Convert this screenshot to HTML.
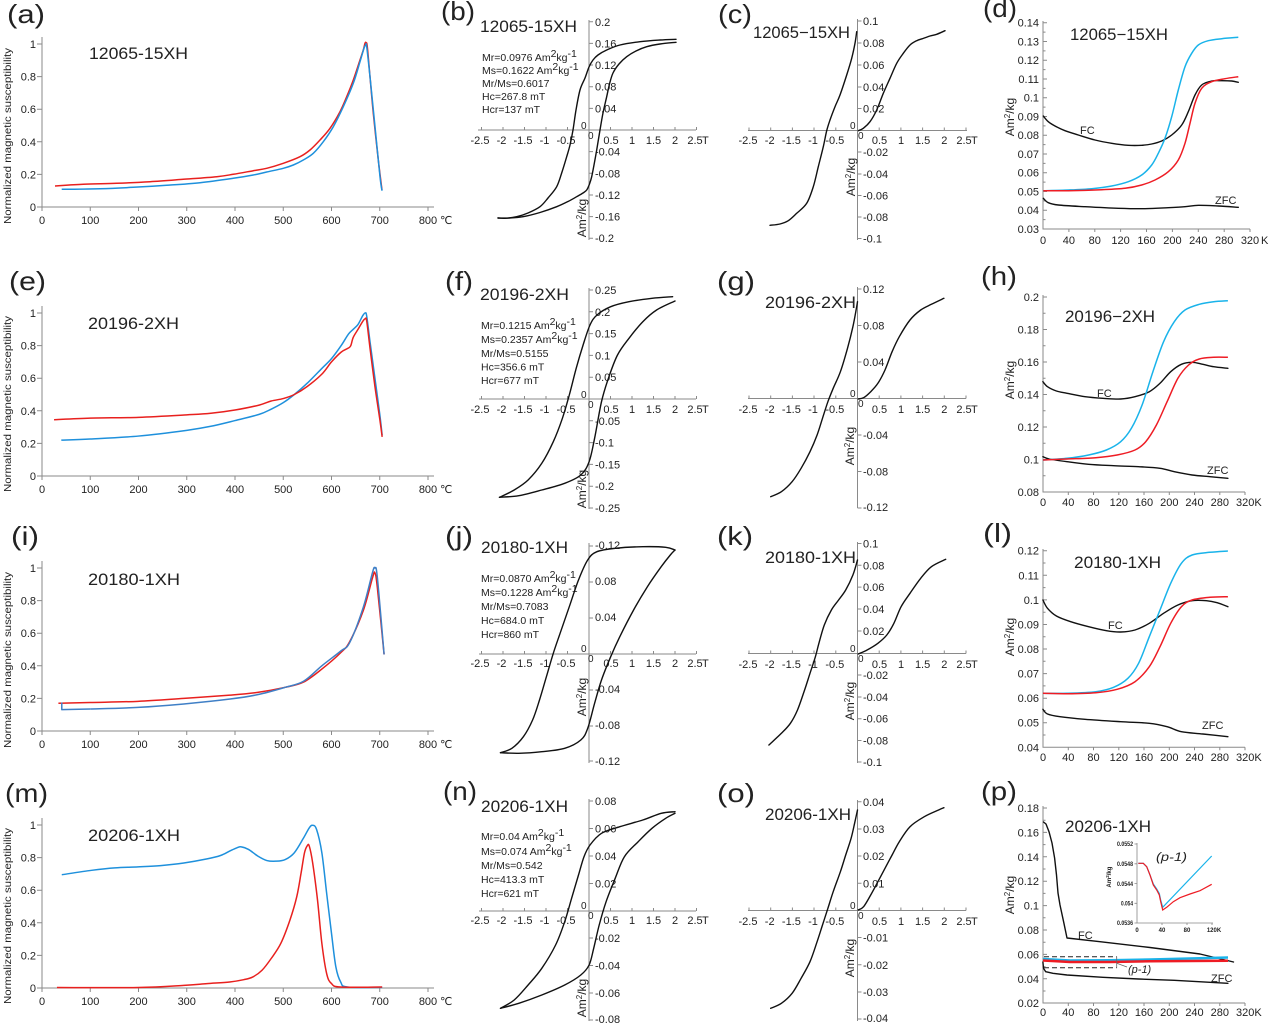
<!DOCTYPE html>
<html><head><meta charset="utf-8"><style>
html,body{margin:0;padding:0;background:#fff}
svg{display:block}
text{font-family:"Liberation Sans","DejaVu Sans","Noto Sans CJK SC",sans-serif;fill:#222}
.t{font-size:11px}
.pl{font-size:26px}
.nm{font-size:16.5px}
.mr{font-size:10.5px}
.ax{stroke:#8a8a8a;stroke-width:1;fill:none}
.k{fill:none;stroke:#111;stroke-width:1.4;stroke-linejoin:round;stroke-linecap:round}
.r{fill:none;stroke:#e8201e;stroke-width:1.5;stroke-linejoin:round}
.b{fill:none;stroke:#1e90dc;stroke-width:1.5;stroke-linejoin:round}
.bs{fill:none;stroke:#3f7fc6;stroke-width:1.5;stroke-linejoin:round}
.c{fill:none;stroke:#19b3ea;stroke-width:1.5;stroke-linejoin:round}
.rr{fill:none;stroke:#ee1c24;stroke-width:1.5;stroke-linejoin:round}
</style></head><body>
<svg width="1270" height="1023" viewBox="0 0 1270 1023" xmlns="http://www.w3.org/2000/svg">
<rect width="1270" height="1023" fill="#fff"/>

<!-- Panel letters -->
<text class="pl" x="7" y="23" textLength="38" lengthAdjust="spacingAndGlyphs">(a)</text>
<text class="pl" x="441" y="20" textLength="34" lengthAdjust="spacingAndGlyphs">(b)</text>
<text class="pl" x="718" y="23" textLength="34" lengthAdjust="spacingAndGlyphs">(c)</text>
<text class="pl" x="983" y="17" textLength="34" lengthAdjust="spacingAndGlyphs">(d)</text>
<text class="pl" x="9" y="290" textLength="37" lengthAdjust="spacingAndGlyphs">(e)</text>
<text class="pl" x="445" y="290" textLength="28" lengthAdjust="spacingAndGlyphs">(f)</text>
<text class="pl" x="717" y="290" textLength="38" lengthAdjust="spacingAndGlyphs">(g)</text>
<text class="pl" x="981" y="285" textLength="36" lengthAdjust="spacingAndGlyphs">(h)</text>
<text class="pl" x="11" y="545" textLength="28" lengthAdjust="spacingAndGlyphs">(i)</text>
<text class="pl" x="445" y="545" textLength="28" lengthAdjust="spacingAndGlyphs">(j)</text>
<text class="pl" x="717" y="545" textLength="36" lengthAdjust="spacingAndGlyphs">(k)</text>
<text class="pl" x="983" y="542" textLength="29" lengthAdjust="spacingAndGlyphs">(l)</text>
<text class="pl" x="5" y="802" textLength="43" lengthAdjust="spacingAndGlyphs">(m)</text>
<text class="pl" x="443" y="800" textLength="34" lengthAdjust="spacingAndGlyphs">(n)</text>
<text class="pl" x="717" y="802" textLength="38" lengthAdjust="spacingAndGlyphs">(o)</text>
<text class="pl" x="981" y="800" textLength="36" lengthAdjust="spacingAndGlyphs">(p)</text>

<!-- Sample names -->
<text class="nm" x="89" y="59" textLength="99" lengthAdjust="spacingAndGlyphs">12065-15XH</text>
<text class="nm" x="88" y="329" textLength="91" lengthAdjust="spacingAndGlyphs">20196-2XH</text>
<text class="nm" x="88" y="585" textLength="92" lengthAdjust="spacingAndGlyphs">20180-1XH</text>
<text class="nm" x="88" y="841" textLength="92" lengthAdjust="spacingAndGlyphs">20206-1XH</text>
<text class="nm" x="480" y="32" textLength="97" lengthAdjust="spacingAndGlyphs">12065-15XH</text>
<text class="nm" x="480" y="300" textLength="89" lengthAdjust="spacingAndGlyphs">20196-2XH</text>
<text class="nm" x="481" y="553" textLength="87" lengthAdjust="spacingAndGlyphs">20180-1XH</text>
<text class="nm" x="481" y="812" textLength="87" lengthAdjust="spacingAndGlyphs">20206-1XH</text>
<text class="nm" x="753" y="38" textLength="97" lengthAdjust="spacingAndGlyphs">12065−15XH</text>
<text class="nm" x="765" y="308" textLength="91" lengthAdjust="spacingAndGlyphs">20196-2XH</text>
<text class="nm" x="765" y="563" textLength="91" lengthAdjust="spacingAndGlyphs">20180-1XH</text>
<text class="nm" x="765" y="820" textLength="86" lengthAdjust="spacingAndGlyphs">20206-1XH</text>
<text class="nm" x="1070" y="40" textLength="98" lengthAdjust="spacingAndGlyphs">12065−15XH</text>
<text class="nm" x="1065" y="322" textLength="90" lengthAdjust="spacingAndGlyphs">20196−2XH</text>
<text class="nm" x="1074" y="568" textLength="87" lengthAdjust="spacingAndGlyphs">20180-1XH</text>
<text class="nm" x="1065" y="832" textLength="86" lengthAdjust="spacingAndGlyphs">20206-1XH</text>

<!-- ================= COLUMN 1 axes ================= -->
<g id="col1">
<path class="ax" d="M42,37V207H434"/>
<path class="ax" d="M37,207H42M37,174.4H42M37,141.8H42M37,109.2H42M37,76.6H42M37,44H42"/>
<path class="ax" d="M42,207v4M90.25,207v4M138.5,207v4M186.75,207v4M235,207v4M283.25,207v4M331.5,207v4M379.75,207v4M428,207v4"/>
<g class="t" text-anchor="end">
<text x="36" y="211">0</text><text x="36" y="178.4">0.2</text><text x="36" y="145.8">0.4</text><text x="36" y="113.2">0.6</text><text x="36" y="80.6">0.8</text><text x="36" y="48">1</text>
</g>
<g class="t" text-anchor="middle">
<text x="42" y="224">0</text><text x="90.25" y="224">100</text><text x="138.5" y="224">200</text><text x="186.75" y="224">300</text><text x="235" y="224">400</text><text x="283.25" y="224">500</text><text x="331.5" y="224">600</text><text x="379.75" y="224">700</text><text x="428" y="224">800</text>
</g>
<text class="t" x="440" y="224">℃</text>
<text class="t" transform="rotate(-90 11 136)" x="11" y="136" text-anchor="middle" textLength="176" lengthAdjust="spacingAndGlyphs" style="font-size:10.5px">Normalized magnetic susceptibility</text>

<path class="ax" d="M42,306V476H434"/>
<path class="ax" d="M37,476H42M37,443.4H42M37,410.8H42M37,378.2H42M37,345.6H42M37,313H42"/>
<path class="ax" d="M42,476v4M90.25,476v4M138.5,476v4M186.75,476v4M235,476v4M283.25,476v4M331.5,476v4M379.75,476v4M428,476v4"/>
<g class="t" text-anchor="end">
<text x="36" y="480">0</text><text x="36" y="447.4">0.2</text><text x="36" y="414.8">0.4</text><text x="36" y="382.2">0.6</text><text x="36" y="349.6">0.8</text><text x="36" y="317">1</text>
</g>
<g class="t" text-anchor="middle">
<text x="42" y="493">0</text><text x="90.25" y="493">100</text><text x="138.5" y="493">200</text><text x="186.75" y="493">300</text><text x="235" y="493">400</text><text x="283.25" y="493">500</text><text x="331.5" y="493">600</text><text x="379.75" y="493">700</text><text x="428" y="493">800</text>
</g>
<text class="t" x="440" y="493">℃</text>
<text class="t" transform="rotate(-90 11 404)" x="11" y="404" text-anchor="middle" textLength="176" lengthAdjust="spacingAndGlyphs" style="font-size:10.5px">Normalized magnetic susceptibility</text>

<path class="ax" d="M42,561V731H434"/>
<path class="ax" d="M37,731H42M37,698.4H42M37,665.8H42M37,633.2H42M37,600.6H42M37,568H42"/>
<path class="ax" d="M42,731v4M90.25,731v4M138.5,731v4M186.75,731v4M235,731v4M283.25,731v4M331.5,731v4M379.75,731v4M428,731v4"/>
<g class="t" text-anchor="end">
<text x="36" y="735">0</text><text x="36" y="702.4">0.2</text><text x="36" y="669.8">0.4</text><text x="36" y="637.2">0.6</text><text x="36" y="604.6">0.8</text><text x="36" y="572">1</text>
</g>
<g class="t" text-anchor="middle">
<text x="42" y="748">0</text><text x="90.25" y="748">100</text><text x="138.5" y="748">200</text><text x="186.75" y="748">300</text><text x="235" y="748">400</text><text x="283.25" y="748">500</text><text x="331.5" y="748">600</text><text x="379.75" y="748">700</text><text x="428" y="748">800</text>
</g>
<text class="t" x="440" y="748">℃</text>
<text class="t" transform="rotate(-90 11 660)" x="11" y="660" text-anchor="middle" textLength="176" lengthAdjust="spacingAndGlyphs" style="font-size:10.5px">Normalized magnetic susceptibility</text>

<path class="ax" d="M42,818V988H434"/>
<path class="ax" d="M37,988H42M37,955.4H42M37,922.8H42M37,890.2H42M37,857.6H42M37,825H42"/>
<path class="ax" d="M42,988v4M90.25,988v4M138.5,988v4M186.75,988v4M235,988v4M283.25,988v4M331.5,988v4M379.75,988v4M428,988v4"/>
<g class="t" text-anchor="end">
<text x="36" y="992">0</text><text x="36" y="959.4">0.2</text><text x="36" y="926.8">0.4</text><text x="36" y="894.2">0.6</text><text x="36" y="861.6">0.8</text><text x="36" y="829">1</text>
</g>
<g class="t" text-anchor="middle">
<text x="42" y="1005">0</text><text x="90.25" y="1005">100</text><text x="138.5" y="1005">200</text><text x="186.75" y="1005">300</text><text x="235" y="1005">400</text><text x="283.25" y="1005">500</text><text x="331.5" y="1005">600</text><text x="379.75" y="1005">700</text><text x="428" y="1005">800</text>
</g>
<text class="t" x="440" y="1005">℃</text>
<text class="t" transform="rotate(-90 11 916)" x="11" y="916" text-anchor="middle" textLength="176" lengthAdjust="spacingAndGlyphs" style="font-size:10.5px">Normalized magnetic susceptibility</text>
</g>

<!-- Column 1 curves -->
<polyline class="r" points="55,186 83.3,184.3 116.7,183.3 150,181.7 183.3,179.3 216.7,176.7 233.3,174.3 253.3,170.7 266.7,168.3 283.3,163.3 300,156.7 310,150 320,140 330,128.3 340,111.7 346.7,96.7 353.3,80 360,60 363.3,50 365,43.3 366,42.7 367.3,46.7 370,76.7 373.3,113.3 378.3,160 382,190"/>
<polyline class="b" points="61.7,189.3 100,188.7 133.3,187.3 166.7,185.3 200,182.7 233.3,178.3 253.3,175 266.7,172 283.3,168.3 293.3,165 303.3,160 313.3,153.3 323.3,141.7 333.3,126.7 343.3,106.7 353.3,83.3 360,61.7 364,48.3 365.7,45 366.7,46.7 370,76.7 375,126.7 380,176.7 382,190.7"/>

<g transform="translate(42,476) scale(0.4825,-163)">
<polyline class="b" vector-effect="non-scaling-stroke" points="40,0.22 100,0.227 200,0.245 300,0.28 350,0.305 400,0.34 450,0.378 475,0.41 500,0.45 523,0.5 550,0.57 580,0.66 600,0.72 620,0.8 635,0.87 645,0.9 655,0.93 665,0.985 670,1 673,0.98 680,0.82 690,0.6 700,0.38 705,0.25"/>
<polyline class="r" vector-effect="non-scaling-stroke" points="25,0.345 100,0.355 200,0.36 300,0.375 350,0.385 400,0.405 450,0.435 475,0.46 500,0.475 523,0.5 550,0.55 580,0.625 600,0.7 620,0.76 635,0.785 640,0.8 645,0.85 655,0.9 665,0.95 670,0.965 673,0.95 680,0.78 690,0.55 700,0.35 705,0.24"/>
</g>

<g transform="translate(42,731) scale(0.4825,-163)">
<polyline class="r" vector-effect="non-scaling-stroke" points="34,0.17 100,0.175 199,0.182 294,0.2 390,0.22 447,0.237 504,0.268 542,0.3 580,0.38 619,0.48 638,0.55 666,0.74 685,0.94 690,0.97 695,0.88 709,0.47"/>
<polyline class="bs ns" vector-effect="non-scaling-stroke" points="41,0.175 41,0.131 100,0.135"/>
<polyline class="bs" vector-effect="non-scaling-stroke" points="100,0.135 199,0.145 294,0.166 390,0.196 447,0.223 504,0.268 542,0.305 580,0.4 619,0.49 638,0.544 666,0.76 685,0.973 690,1 695,0.943 709,0.47"/>
</g>

<g transform="translate(42,988) scale(0.4825,-163)">
<polyline class="b" vector-effect="non-scaling-stroke" points="41,0.695 103,0.722 151,0.737 199,0.743 246,0.751 294,0.767 342,0.792 370,0.813 389,0.84 404,0.86 413,0.866 428,0.85 447,0.81 466,0.782 485,0.778 504,0.788 523,0.83 542,0.92 554,0.983 561,0.998 569,0.973 580,0.83 590,0.58 600,0.335 609,0.13 619,0.037 633,0.006 705,0.004"/>
<polyline class="r" vector-effect="non-scaling-stroke" points="31,0.003 199,0.003 294,0.016 342,0.027 389,0.037 418,0.051 437,0.068 456,0.109 475,0.181 495,0.274 514,0.418 528,0.56 537,0.706 544,0.829 550,0.874 554,0.87 561,0.767 571,0.54 580,0.274 590,0.088 600,0.027 619,0.006 705,0.006"/>
</g>

<!-- ================= COLUMN 2 ================= -->
<path class="ax" d="M478,130H696M589,20V240"/>
<path class="ax" d="M481.5,130v-3M503,130v-3M524.5,130v-3M546,130v-3M567.5,130v-3M610.5,130v-3M632,130v-3M653.5,130v-3M675,130v-3M696.5,130v-3"/>
<path class="ax" d="M589,21.8h4M589,43.4h4M589,65h4M589,86.7h4M589,108.4h4M589,151.6h4M589,173.3h4M589,195h4M589,216.6h4M589,238.2h4"/>
<g class="t">
<text x="595" y="25.8">0.2</text><text x="595" y="47.4">0.16</text><text x="595" y="69">0.12</text><text x="595" y="90.7">0.08</text><text x="595" y="112.4">0.04</text><text x="595" y="155.6">-0.04</text><text x="595" y="177.3">-0.08</text><text x="595" y="199">-0.12</text><text x="595" y="220.6">-0.16</text><text x="595" y="242.2">-0.2</text>
</g>
<g class="t" text-anchor="middle">
<text x="480" y="144">-2.5</text><text x="501.5" y="144">-2</text><text x="523" y="144">-1.5</text><text x="544.5" y="144">-1</text><text x="566" y="144">-0.5</text><text x="611" y="144">0.5</text><text x="632" y="144">1</text><text x="653.5" y="144">1.5</text><text x="675" y="144">2</text><text x="695" y="144">2.5</text>
</g>
<text class="t" x="702" y="144">T</text>
<text class="t" x="581" y="129" style="font-size:10px">0</text><text class="t" x="588" y="139" style="font-size:10px">0</text>
<text class="t" transform="rotate(-90 586 218)" x="586" y="218" text-anchor="middle" style="font-size:12px">Am<tspan dy="-4" style="font-size:8px">2</tspan><tspan dy="4">/kg</tspan></text>
<g class="mr">
<text x="482" y="61">Mr=0.0976 Am<tspan dy="-4">2</tspan><tspan dy="4">kg</tspan><tspan dy="-4">-1</tspan></text>
<text x="482" y="74">Ms=0.1622 Am<tspan dy="-4">2</tspan><tspan dy="4">kg</tspan><tspan dy="-4">-1</tspan></text>
<text x="482" y="87">Mr/Ms=0.6017</text>
<text x="482" y="100">Hc=267.8 mT</text>
<text x="482" y="113">Hcr=137 mT</text>
</g>
<polyline class="k" points="676,39.3 660,40 640,41.7 620,45 606.7,50 598,55 593,60 589,67 585,78 580,90 576,110 573,130 570,145 566.7,156.7 562,172 556.7,186.7 548,198 540,206.7 528,213 516.7,216.7 505,218.3 498,218"/>
<polyline class="k" points="498,218 510,218 523,216.7 540,212.5 556.7,206.7 568,201.5 576.7,196.7 583,193 586.7,190 589.5,184 591.7,176.7 594,165 596.7,150 600,130 603,113 606.7,96.7 609.5,84 613,73 619,64 626.7,56.7 636,51 646.7,46.7 660,44 676,42.3"/>

<path class="ax" d="M479,399H696M589,288V509"/>
<path class="ax" d="M481.5,399v-3M503,399v-3M524.5,399v-3M546,399v-3M567.5,399v-3M610.5,399v-3M632,399v-3M653.5,399v-3M675,399v-3M696.5,399v-3"/>
<path class="ax" d="M589,290h4M589,311.8h4M589,333.6h4M589,355.4h4M589,377.2h4M589,420.8h4M589,442.6h4M589,464.4h4M589,486.2h4M589,508h4"/>
<g class="t">
<text x="595" y="294">0.25</text><text x="595" y="315.8">0.2</text><text x="595" y="337.6">0.15</text><text x="595" y="359.4">0.1</text><text x="595" y="381.2">0.05</text><text x="595" y="424.8">-0.05</text><text x="595" y="446.6">-0.1</text><text x="595" y="468.4">-0.15</text><text x="595" y="490.2">-0.2</text><text x="595" y="512">-0.25</text>
</g>
<g class="t" text-anchor="middle">
<text x="480" y="413">-2.5</text><text x="501.5" y="413">-2</text><text x="523" y="413">-1.5</text><text x="544.5" y="413">-1</text><text x="566" y="413">-0.5</text><text x="611" y="413">0.5</text><text x="632" y="413">1</text><text x="653.5" y="413">1.5</text><text x="675" y="413">2</text><text x="695" y="413">2.5</text>
</g>
<text class="t" x="702" y="413">T</text>
<text class="t" x="581" y="398" style="font-size:10px">0</text><text class="t" x="588" y="408" style="font-size:10px">0</text>
<text class="t" transform="rotate(-90 586 489)" x="586" y="489" text-anchor="middle" style="font-size:12px">Am<tspan dy="-4" style="font-size:8px">2</tspan><tspan dy="4">/kg</tspan></text>
<g class="mr">
<text x="481" y="329">Mr=0.1215 Am<tspan dy="-4">2</tspan><tspan dy="4">kg</tspan><tspan dy="-4">-1</tspan></text>
<text x="481" y="343">Ms=0.2357 Am<tspan dy="-4">2</tspan><tspan dy="4">kg</tspan><tspan dy="-4">-1</tspan></text>
<text x="481" y="357">Mr/Ms=0.5155</text>
<text x="481" y="370.5">Hc=356.6 mT</text>
<text x="481" y="384">Hcr=677 mT</text>
</g>
<polyline class="k" points="672.6,296.7 652,298.3 629,301.7 610.7,306.7 597,315 590,325 583.1,345 576.2,368.3 569.3,395 562.4,418.3 553.3,441.7 541.8,463.3 528.1,480 514.2,490 499.5,497.3"/>
<polyline class="k" points="499.5,497.3 518.8,495.7 541.8,490 564.7,483.3 580.8,475 589.1,461.7 594.6,438.3 601.5,401.7 608.4,378.3 617.5,355 629,338.3 642.8,321.7 656.6,310 675,301"/>

<path class="ax" d="M479,654H696M589,543V763"/>
<path class="ax" d="M481.5,654v-3M503,654v-3M524.5,654v-3M546,654v-3M567.5,654v-3M610.5,654v-3M632,654v-3M653.5,654v-3M675,654v-3M696.5,654v-3"/>
<path class="ax" d="M589,546h4M589,582h4M589,618h4M589,690h4M589,726h4M589,761h4"/>
<g class="t">
<text x="595" y="549">-0.12</text><text x="595" y="585">0.08</text><text x="595" y="621">0.04</text><text x="595" y="693">-0.04</text><text x="595" y="729">-0.08</text><text x="595" y="765">-0.12</text>
</g>
<g class="t" text-anchor="middle">
<text x="480" y="667">-2.5</text><text x="501.5" y="667">-2</text><text x="523" y="667">-1.5</text><text x="544.5" y="667">-1</text><text x="566" y="667">-0.5</text><text x="611" y="667">0.5</text><text x="632" y="667">1</text><text x="653.5" y="667">1.5</text><text x="675" y="667">2</text><text x="695" y="667">2.5</text>
</g>
<text class="t" x="702" y="667">T</text>
<text class="t" x="581" y="652" style="font-size:10px">0</text><text class="t" x="588" y="662" style="font-size:10px">0</text>
<text class="t" transform="rotate(-90 586 697)" x="586" y="697" text-anchor="middle" style="font-size:12px">Am<tspan dy="-4" style="font-size:8px">2</tspan><tspan dy="4">/kg</tspan></text>
<g class="mr">
<text x="481" y="582">Mr=0.0870 Am<tspan dy="-4">2</tspan><tspan dy="4">kg</tspan><tspan dy="-4">-1</tspan></text>
<text x="481" y="596">Ms=0.1228 Am<tspan dy="-4">2</tspan><tspan dy="4">kg</tspan><tspan dy="-4">-1</tspan></text>
<text x="481" y="610">Mr/Ms=0.7083</text>
<text x="481" y="624">Hc=684.0 mT</text>
<text x="481" y="638">Hcr=860 mT</text>
</g>
<polyline class="k" points="675,550 665.7,547.3 642.8,546.7 615.2,548.3 596.9,551.7 587.7,560 578.5,580 569.3,606.7 560.1,633.3 553.3,653.3 546.4,676.7 539.5,700 532.6,720 523.4,736.7 511.9,748.3 500.5,752.7"/>
<polyline class="k" points="500.5,752.7 518.8,753.3 541.8,751.7 564.7,748.3 580.8,740 587.7,728.3 594.6,703.3 601.5,680 610.7,656.7 619.8,636.7 633.6,610 647.4,586.7 661.2,566.7 670.3,555 675,550"/>

<path class="ax" d="M479,911H696M589,799V1021"/>
<path class="ax" d="M481.5,911v-3M503,911v-3M524.5,911v-3M546,911v-3M567.5,911v-3M610.5,911v-3M632,911v-3M653.5,911v-3M675,911v-3M696.5,911v-3"/>
<path class="ax" d="M589,801h4M589,828.5h4M589,856h4M589,883.5h4M589,938h4M589,965.5h4M589,993h4M589,1020h4"/>
<g class="t">
<text x="595" y="805">0.08</text><text x="595" y="832.5">0.06</text><text x="595" y="860">0.04</text><text x="595" y="887.5">0.02</text><text x="595" y="942">-0.02</text><text x="595" y="969.5">-0.04</text><text x="595" y="997">-0.06</text><text x="595" y="1023">-0.08</text>
</g>
<g class="t" text-anchor="middle">
<text x="480" y="924">-2.5</text><text x="501.5" y="924">-2</text><text x="523" y="924">-1.5</text><text x="544.5" y="924">-1</text><text x="566" y="924">-0.5</text><text x="611" y="924">0.5</text><text x="632" y="924">1</text><text x="653.5" y="924">1.5</text><text x="675" y="924">2</text><text x="695" y="924">2.5</text>
</g>
<text class="t" x="702" y="924">T</text>
<text class="t" x="581" y="909" style="font-size:10px">0</text><text class="t" x="588" y="919" style="font-size:10px">0</text>
<text class="t" transform="rotate(-90 586 998)" x="586" y="998" text-anchor="middle" style="font-size:12px">Am<tspan dy="-4" style="font-size:8px">2</tspan><tspan dy="4">/kg</tspan></text>
<g class="mr">
<text x="481" y="840">Mr=0.04 Am<tspan dy="-4">2</tspan><tspan dy="4">kg</tspan><tspan dy="-4">-1</tspan></text>
<text x="481" y="855">Ms=0.074 Am<tspan dy="-4">2</tspan><tspan dy="4">kg</tspan><tspan dy="-4">-1</tspan></text>
<text x="481" y="869">Mr/Ms=0.542</text>
<text x="481" y="883">Hc=413.3 mT</text>
<text x="481" y="897">Hcr=621 mT</text>
</g>
<polyline class="k" points="675,811.7 661.2,813.3 642.8,820 619.8,826.7 601.5,833.3 590,845 584,856.7 578.5,875 571.6,898.3 564.7,921.7 555.6,945 541.8,968.3 528.1,985 514.2,1000 500.5,1008.3"/>
<polyline class="k" points="500.5,1008.3 518.8,1003.3 541.8,995 564.7,985 580.8,975 589.1,965 593.7,948.3 599.2,925 606.1,901.7 615.2,878.3 624.4,856.7 638.2,841.7 652,828.3 665.7,818.3 675,813.3"/>

<!-- ================= COLUMN 3 ================= -->
<path class="ax" d="M748,130.5H967M857.5,19V240"/>
<path class="ax" d="M749,130.5v-3M770.7,130.5v-3M792.4,130.5v-3M814,130.5v-3M835.8,130.5v-3M879.2,130.5v-3M900.9,130.5v-3M922.6,130.5v-3M944.3,130.5v-3M966,130.5v-3"/>
<path class="ax" d="M857.5,21h4M857.5,43h4M857.5,65h4M857.5,87h4M857.5,108.5h4M857.5,152h4M857.5,174h4M857.5,195.5h4M857.5,217h4M857.5,238.5h4"/>
<g class="t">
<text x="863" y="25">0.1</text><text x="863" y="47">0.08</text><text x="863" y="69">0.06</text><text x="863" y="91">0.04</text><text x="863" y="112.5">0.02</text><text x="863" y="156">-0.02</text><text x="863" y="178">-0.04</text><text x="863" y="199.5">-0.06</text><text x="863" y="221">-0.08</text><text x="863" y="242.5">-0.1</text>
</g>
<g class="t" text-anchor="middle">
<text x="748" y="144">-2.5</text><text x="769.7" y="144">-2</text><text x="791.4" y="144">-1.5</text><text x="813" y="144">-1</text><text x="834.8" y="144">-0.5</text><text x="879.5" y="144">0.5</text><text x="901" y="144">1</text><text x="922.6" y="144">1.5</text><text x="944.3" y="144">2</text><text x="964" y="144">2.5</text>
</g>
<text class="t" x="971" y="144">T</text>
<text class="t" x="850" y="129" style="font-size:10px">0</text><text class="t" x="858" y="139" style="font-size:10px">0</text>
<text class="t" transform="rotate(-90 855 177)" x="855" y="177" text-anchor="middle" style="font-size:12px">Am<tspan dy="-4" style="font-size:8px">2</tspan><tspan dy="4">/kg</tspan></text>
<polyline class="k" points="856.7,31.7 855,43.3 851.7,58.3 846.7,75 840,95 835,106.7 830,120 826.7,130.7 823.3,146.7 818.3,166.7 813.3,186.7 806.7,203.3 796.7,213.3 788.3,220.7 780,224 770,225.3"/>
<polyline class="k" points="858.3,130.7 863.3,128.3 870,121.7 876.7,110 883.3,93.3 890,78.3 896.7,63.3 903.3,53.3 910,45 916.7,40.7 923,38.5 930,36 936.7,34.3 945,30.7"/>

<path class="ax" d="M748,398.5H966M857.5,287V508"/>
<path class="ax" d="M749,398.5v-3M770.7,398.5v-3M792.4,398.5v-3M814,398.5v-3M835.8,398.5v-3M879.2,398.5v-3M900.9,398.5v-3M922.6,398.5v-3M944.3,398.5v-3M966,398.5v-3"/>
<path class="ax" d="M857.5,289h4M857.5,325.5h4M857.5,362h4M857.5,435h4M857.5,471.5h4M857.5,508h4"/>
<g class="t">
<text x="863" y="293">0.12</text><text x="863" y="329.5">0.08</text><text x="863" y="366">0.04</text><text x="863" y="439">-0.04</text><text x="863" y="475.5">-0.08</text><text x="863" y="511">-0.12</text>
</g>
<g class="t" text-anchor="middle">
<text x="748" y="413">-2.5</text><text x="769.7" y="413">-2</text><text x="791.4" y="413">-1.5</text><text x="813" y="413">-1</text><text x="834.8" y="413">-0.5</text><text x="879.5" y="413">0.5</text><text x="901" y="413">1</text><text x="922.6" y="413">1.5</text><text x="944.3" y="413">2</text><text x="964" y="413">2.5</text>
</g>
<text class="t" x="971" y="413">T</text>
<text class="t" x="850" y="397" style="font-size:10px">0</text><text class="t" x="858" y="407" style="font-size:10px">0</text>
<text class="t" transform="rotate(-90 854 446)" x="854" y="446" text-anchor="middle" style="font-size:12px">Am<tspan dy="-4" style="font-size:8px">2</tspan><tspan dy="4">/kg</tspan></text>
<polyline class="k" points="857.5,301.7 856.4,308.3 852.9,326.7 847.5,348.3 840.4,371.7 833.2,388.3 827.9,401.7 822.5,418.3 817.1,435 810,451.7 801.1,468.3 792.1,481.7 781.4,491.7 770.7,496.7"/>
<polyline class="k" points="858.2,399 863.6,397.7 870.7,391.7 877.9,383.3 885,370 892.1,351.7 899.3,336.7 910,320 920.7,310 931.4,304.3 943.9,298.3"/>

<path class="ax" d="M748,653.5H966M857.5,542V763"/>
<path class="ax" d="M749,653.5v-3M770.7,653.5v-3M792.4,653.5v-3M814,653.5v-3M835.8,653.5v-3M879.2,653.5v-3M900.9,653.5v-3M922.6,653.5v-3M944.3,653.5v-3M966,653.5v-3"/>
<path class="ax" d="M857.5,543.5h4M857.5,565.3h4M857.5,587.1h4M857.5,609h4M857.5,631h4M857.5,675h4M857.5,697h4M857.5,718.7h4M857.5,740.5h4M857.5,762h4"/>
<g class="t">
<text x="863" y="547.5">0.1</text><text x="863" y="569.3">0.08</text><text x="863" y="591.1">0.06</text><text x="863" y="613">0.04</text><text x="863" y="635">0.02</text><text x="863" y="679">-0.02</text><text x="863" y="701">-0.04</text><text x="863" y="722.7">-0.06</text><text x="863" y="744.5">-0.08</text><text x="863" y="766">-0.1</text>
</g>
<g class="t" text-anchor="middle">
<text x="748" y="668">-2.5</text><text x="769.7" y="668">-2</text><text x="791.4" y="668">-1.5</text><text x="813" y="668">-1</text><text x="834.8" y="668">-0.5</text><text x="879.5" y="668">0.5</text><text x="901" y="668">1</text><text x="922.6" y="668">1.5</text><text x="944.3" y="668">2</text><text x="964" y="668">2.5</text>
</g>
<text class="t" x="971" y="668">T</text>
<text class="t" x="850" y="652" style="font-size:10px">0</text><text class="t" x="858" y="662" style="font-size:10px">0</text>
<text class="t" transform="rotate(-90 854 701)" x="854" y="701" text-anchor="middle" style="font-size:12px">Am<tspan dy="-4" style="font-size:8px">2</tspan><tspan dy="4">/kg</tspan></text>
<polyline class="k" points="857.5,560 852.9,575 845.7,590 838.6,600 831.4,610 824.3,625 818.9,643.3 815.4,656.7 810,673.3 804.6,690 797.5,710 790.4,723.3 781.4,733.3 768.9,745"/>
<polyline class="k" points="858.2,654 867.1,650 877.9,643.3 886.8,635 893.9,623.3 901.1,606.7 910,593.3 920.7,578.3 931.4,566.7 945.7,559.3"/>

<path class="ax" d="M748,910.5H966M857.5,800V1021"/>
<path class="ax" d="M749,910.5v-3M770.7,910.5v-3M792.4,910.5v-3M814,910.5v-3M835.8,910.5v-3M879.2,910.5v-3M900.9,910.5v-3M922.6,910.5v-3M944.3,910.5v-3M966,910.5v-3"/>
<path class="ax" d="M857.5,801.8h4M857.5,829h4M857.5,856h4M857.5,883.3h4M857.5,937.5h4M857.5,964.8h4M857.5,992h4M857.5,1019h4"/>
<g class="t">
<text x="863" y="805.8">0.04</text><text x="863" y="833">0.03</text><text x="863" y="860">0.02</text><text x="863" y="887.3">0.01</text><text x="863" y="941.5">-0.01</text><text x="863" y="968.8">-0.02</text><text x="863" y="996">-0.03</text><text x="863" y="1022">-0.04</text>
</g>
<g class="t" text-anchor="middle">
<text x="748" y="925">-2.5</text><text x="769.7" y="925">-2</text><text x="791.4" y="925">-1.5</text><text x="813" y="925">-1</text><text x="834.8" y="925">-0.5</text><text x="879.5" y="925">0.5</text><text x="901" y="925">1</text><text x="922.6" y="925">1.5</text><text x="944.3" y="925">2</text><text x="964" y="925">2.5</text>
</g>
<text class="t" x="971" y="925">T</text>
<text class="t" x="850" y="909" style="font-size:10px">0</text><text class="t" x="858" y="919" style="font-size:10px">0</text>
<text class="t" transform="rotate(-90 854 958)" x="854" y="958" text-anchor="middle" style="font-size:12px">Am<tspan dy="-4" style="font-size:8px">2</tspan><tspan dy="4">/kg</tspan></text>
<polyline class="k" points="857.5,810 854.6,823.3 851.1,838.3 845.7,855 840.4,871.7 833.2,891.7 827.9,908.3 822.5,925 817.1,941.7 810,961.7 801.1,978.3 792.1,993.3 781.4,1003.3 770.7,1008.3"/>
<polyline class="k" points="858.2,910 863.6,906.7 870.7,895 877.9,881.7 885,868.3 892.1,855 899.3,841.7 910,826.7 924.3,816.7 938.6,810 943.9,807.7"/>

<!-- ================= COLUMN 4 ================= -->
<path class="ax" d="M1043,21V229H1250"/>
<path class="ax" d="M1043,22.7h4M1043,41.5h4M1043,60.2h4M1043,79h4M1043,97.7h4M1043,116.5h4M1043,135.2h4M1043,154h4M1043,172.7h4M1043,191.5h4M1043,210.2h4M1043,32.1h2.5M1043,50.9h2.5M1043,69.6h2.5M1043,88.4h2.5M1043,107.1h2.5M1043,125.9h2.5M1043,144.6h2.5M1043,163.4h2.5M1043,182.1h2.5M1043,200.9h2.5M1043,219.6h2.5"/>
<path class="ax" d="M1068.9,229v3M1094.8,229v3M1120.6,229v3M1146.5,229v3M1172.4,229v3M1198.3,229v3M1224.2,229v3M1250,229v3"/>
<g class="t" text-anchor="end">
<text x="1039" y="26.7">0.14</text><text x="1039" y="45.5">0.13</text><text x="1039" y="64.2">0.12</text><text x="1039" y="83">0.11</text><text x="1039" y="101.7">0.1</text><text x="1039" y="120.5">0.09</text><text x="1039" y="139.2">0.08</text><text x="1039" y="158">0.07</text><text x="1039" y="176.7">0.06</text><text x="1039" y="195.5">0.05</text><text x="1039" y="214.2">0.04</text><text x="1039" y="233">0.03</text>
</g>
<g class="t" text-anchor="middle">
<text x="1043" y="244">0</text><text x="1068.9" y="244">40</text><text x="1094.8" y="244">80</text><text x="1120.6" y="244">120</text><text x="1146.5" y="244">160</text><text x="1172.4" y="244">200</text><text x="1198.3" y="244">240</text><text x="1224.2" y="244">280</text><text x="1250" y="244">320</text>
</g>
<text class="t" x="1261" y="244">K</text>
<text class="t" transform="rotate(-90 1014 117)" x="1014" y="117" text-anchor="middle" style="font-size:12px">Am<tspan dy="-4" style="font-size:8px">2</tspan><tspan dy="4">/kg</tspan></text>
<text class="t" x="1080" y="134">FC</text>
<text class="t" x="1215" y="204">ZFC</text>
<polyline class="k" points="1043.3,116 1048.3,121.7 1055,126 1065,130.7 1078.3,135 1095,140 1111.7,143.3 1128.3,145.3 1141.7,145.3 1151.7,144 1161.7,141 1171.7,135 1181.7,125 1188.3,111.7 1195,95 1201.7,85 1211.7,81 1221.7,80.7 1231.7,81 1238.3,82.3"/>
<polyline class="k" points="1043.3,198.3 1048.3,202.7 1058.3,205 1085,206.7 1118.3,208.3 1145,208.7 1168.3,207.7 1185,206.7 1198.3,205.3 1218.3,206 1238.3,207.3"/>
<polyline class="c" points="1043.3,190.7 1068.3,190 1091.7,188.7 1111.7,186 1128.3,181.7 1141.7,175 1151.7,165 1158.3,153.3 1165,138.3 1171.7,116.7 1178.3,90 1185,66.7 1191.7,53.3 1198.3,45 1208.3,40.7 1221.7,38.7 1238.3,37.3"/>
<polyline class="rr" points="1043.3,190.7 1068.3,190.7 1101.7,189.7 1125,188.3 1141.7,185 1155,180 1168.3,171.7 1178.3,160 1185,143.3 1190,123.3 1195,103.3 1201.7,88.3 1211.7,81.7 1225,78.7 1238.3,76.7"/>

<path class="ax" d="M1043,295V492H1245"/>
<path class="ax" d="M1043,297h4M1043,329.5h4M1043,362h4M1043,394.5h4M1043,427h4M1043,459.5h4M1043,313.3h2.5M1043,345.8h2.5M1043,378.3h2.5M1043,410.8h2.5M1043,443.3h2.5M1043,475.8h2.5"/>
<path class="ax" d="M1068.3,492v3M1093.5,492v3M1118.8,492v3M1144,492v3M1169.3,492v3M1194.5,492v3M1219.8,492v3M1245,492v3"/>
<g class="t" text-anchor="end">
<text x="1039" y="301">0.2</text><text x="1039" y="333.5">0.18</text><text x="1039" y="366">0.16</text><text x="1039" y="398.5">0.14</text><text x="1039" y="431">0.12</text><text x="1039" y="463.5">0.1</text><text x="1039" y="496">0.08</text>
</g>
<g class="t" text-anchor="middle">
<text x="1043" y="506">0</text><text x="1068.3" y="506">40</text><text x="1093.5" y="506">80</text><text x="1118.8" y="506">120</text><text x="1144" y="506">160</text><text x="1169.3" y="506">200</text><text x="1194.5" y="506">240</text><text x="1219.8" y="506">280</text>
</g>
<text class="t" x="1236" y="506">320K</text>
<text class="t" transform="rotate(-90 1014 380)" x="1014" y="380" text-anchor="middle" style="font-size:12px">Am<tspan dy="-4" style="font-size:8px">2</tspan><tspan dy="4">/kg</tspan></text>
<text class="t" x="1097" y="397">FC</text>
<text class="t" x="1207" y="474">ZFC</text>
<polyline class="k" points="1042.9,381.7 1047.5,386.7 1056.4,391 1067.1,393.3 1085,396.7 1102.9,398.3 1120.7,399 1135,396.7 1149.3,391.7 1160,383.3 1170.7,371.7 1181.4,364.3 1192.1,362.3 1202.9,364.3 1213.6,366.7 1227.9,368.3"/>
<polyline class="k" points="1042.9,456.7 1049.3,459 1067.1,461.7 1088.6,464.3 1113.6,465.7 1138.6,466.7 1160,468.3 1174.3,471.7 1192.1,475 1210,476.7 1227.9,478.3"/>
<polyline class="c" points="1042.9,460 1067.1,458.3 1088.6,455 1106.4,450 1120.7,441.7 1131.4,428.3 1142.1,405 1152.9,371.7 1163.6,341.7 1174.3,321.7 1185,310 1199.3,304.3 1213.6,301.7 1227.9,300.7"/>
<polyline class="rr" points="1042.9,460 1067.1,459 1095.7,457.7 1117.1,455 1135,450 1145.7,441.7 1156.4,425 1167.1,401.7 1177.9,378.3 1188.6,365 1199.3,359 1213.6,357.3 1227.9,357.3"/>

<path class="ax" d="M1043,549V747.3H1245"/>
<path class="ax" d="M1043,550.7h4M1043,575.3h4M1043,599.9h4M1043,624.5h4M1043,649h4M1043,673.6h4M1043,698.2h4M1043,722.7h4M1043,563h2.5M1043,587.6h2.5M1043,612.2h2.5M1043,636.8h2.5M1043,661.3h2.5M1043,685.9h2.5M1043,710.5h2.5M1043,735h2.5"/>
<path class="ax" d="M1068.3,747.3v3M1093.5,747.3v3M1118.8,747.3v3M1144,747.3v3M1169.3,747.3v3M1194.5,747.3v3M1219.8,747.3v3M1245,747.3v3"/>
<g class="t" text-anchor="end">
<text x="1039" y="554.7">0.12</text><text x="1039" y="579.3">0.11</text><text x="1039" y="603.9">0.1</text><text x="1039" y="628.5">0.09</text><text x="1039" y="653">0.08</text><text x="1039" y="677.6">0.07</text><text x="1039" y="702.2">0.06</text><text x="1039" y="726.7">0.05</text><text x="1039" y="751.3">0.04</text>
</g>
<g class="t" text-anchor="middle">
<text x="1043" y="761">0</text><text x="1068.3" y="761">40</text><text x="1093.5" y="761">80</text><text x="1118.8" y="761">120</text><text x="1144" y="761">160</text><text x="1169.3" y="761">200</text><text x="1194.5" y="761">240</text><text x="1219.8" y="761">280</text>
</g>
<text class="t" x="1236" y="761">320K</text>
<text class="t" transform="rotate(-90 1014 637)" x="1014" y="637" text-anchor="middle" style="font-size:12px">Am<tspan dy="-4" style="font-size:8px">2</tspan><tspan dy="4">/kg</tspan></text>
<text class="t" x="1108" y="629">FC</text>
<text class="t" x="1202" y="729">ZFC</text>
<polyline class="k" points="1042.9,600 1047.5,608.3 1056.4,616 1070.7,621.7 1088.6,626.7 1106.4,630.7 1120.7,632 1135,630 1149.3,623.3 1163.6,613.3 1177.9,605 1192.1,600.7 1206.4,600.7 1217.1,602.7 1227.9,606.7"/>
<polyline class="k" points="1042.9,709.3 1047.5,714 1060,716.7 1085,719.3 1120.7,721.7 1149.3,723.3 1167.1,726.7 1181.4,731.7 1202.9,734 1227.9,736.7"/>
<polyline class="c" points="1042.9,693.3 1067.1,693.3 1095.7,691.7 1113.6,687.3 1127.9,678.3 1138.6,663.3 1149.3,636.7 1160,610 1170.7,583.3 1181.4,563.3 1192.1,555 1210,552.3 1227.9,551"/>
<polyline class="rr" points="1042.9,693.3 1067.1,693.7 1095.7,692.7 1117.1,689.3 1135,681.7 1149.3,666.7 1160,646.7 1170.7,623.3 1181.4,606.7 1192.1,600 1210,597.3 1227.9,596.7"/>

<!-- (p) -->
<path class="ax" d="M1043,806V1003H1245"/>
<path class="ax" d="M1043,808h4M1043,832.4h4M1043,856.8h4M1043,881.2h4M1043,905.6h4M1043,930h4M1043,954.4h4M1043,978.8h4M1043,820.2h2.5M1043,844.6h2.5M1043,869h2.5M1043,893.4h2.5M1043,917.8h2.5M1043,942.2h2.5M1043,966.6h2.5M1043,991h2.5"/>
<path class="ax" d="M1068.3,1003v3M1093.5,1003v3M1118.8,1003v3M1144,1003v3M1169.3,1003v3M1194.5,1003v3M1219.8,1003v3M1245,1003v3"/>
<g class="t" text-anchor="end">
<text x="1039" y="812">0.18</text><text x="1039" y="836.4">0.16</text><text x="1039" y="860.8">0.14</text><text x="1039" y="885.2">0.12</text><text x="1039" y="909.6">0.1</text><text x="1039" y="934">0.08</text><text x="1039" y="958.4">0.06</text><text x="1039" y="982.8">0.04</text><text x="1039" y="1007">0.02</text>
</g>
<g class="t" text-anchor="middle">
<text x="1043" y="1016">0</text><text x="1068.3" y="1016">40</text><text x="1093.5" y="1016">80</text><text x="1118.8" y="1016">120</text><text x="1144" y="1016">160</text><text x="1169.3" y="1016">200</text><text x="1194.5" y="1016">240</text><text x="1219.8" y="1016">280</text>
</g>
<text class="t" x="1236" y="1016">320K</text>
<text class="t" transform="rotate(-90 1014 895)" x="1014" y="895" text-anchor="middle" style="font-size:12px">Am<tspan dy="-4" style="font-size:8px">2</tspan><tspan dy="4">/kg</tspan></text>
<text class="t" x="1078" y="939">FC</text>
<text class="t" x="1211" y="982">ZFC</text>
<polyline class="k ns" points="1043.5,822 1046,824 1049,831.7 1052,843 1054.6,858 1056.5,875 1058,893 1060,905 1063.6,921.7 1067,938 1100,941.7 1150,947.5 1200,954 1233.5,962"/>
<polyline class="k ns" points="1042.9,962 1043.5,968.3 1045.7,971.7 1052.9,973.3 1067,975 1102.9,977.3 1138.6,979 1174.3,980.3 1227.9,983.3"/>
<polyline points="1043,959 1070,960.5 1110,960.2 1150,959.5 1190,958.5 1228,957.5" fill="none" stroke="#19b3ea" stroke-width="2.5"/>
<polyline points="1043,960.5 1070,962 1110,962 1150,961.3 1190,961 1228,960.8" fill="none" stroke="#ee1c24" stroke-width="2.5"/>
<path d="M1044,956.7H1116.7M1044,967.7H1116.7" fill="none" stroke="#222" stroke-width="1" stroke-dasharray="5,3"/>
<path d="M1116.7,956.7V967.7M1116.7,963.3L1127,967" fill="none" stroke="#666" stroke-width="0.8"/>
<text x="1128" y="973" style="font-size:11px;font-style:italic">(p-1)</text>

<!-- inset p-1 -->
<path d="M1137,843V923H1213" fill="none" stroke="#888" stroke-width="0.8"/>
<path d="M1137,844h-2.5M1137,863.8h-2.5M1137,883.6h-2.5M1137,903.3h-2.5M1137,923h-2.5M1162,923v2M1187,923v2M1212,923v2" fill="none" stroke="#888" stroke-width="0.8"/>
<g style="font-size:6px;font-weight:bold" text-anchor="end">
<text x="1133" y="846.2" textLength="16" lengthAdjust="spacingAndGlyphs">0.0552</text><text x="1133" y="866" textLength="16" lengthAdjust="spacingAndGlyphs">0.0548</text><text x="1133" y="885.8" textLength="16" lengthAdjust="spacingAndGlyphs">0.0544</text><text x="1133" y="905.5" textLength="12" lengthAdjust="spacingAndGlyphs">0.054</text><text x="1133" y="925.2" textLength="16" lengthAdjust="spacingAndGlyphs">0.0536</text>
</g>
<g style="font-size:6px;font-weight:bold" text-anchor="middle">
<text x="1137" y="932">0</text><text x="1162" y="932">40</text><text x="1187" y="932">80</text><text x="1214" y="932">120K</text>
</g>
<text transform="rotate(-90 1111 877)" x="1111" y="877" text-anchor="middle" style="font-size:6px;font-weight:bold">Am<tspan dy="-2" style="font-size:4.5px">2</tspan><tspan dy="2">/kg</tspan></text>
<text x="1156" y="861" style="font-size:12px;font-style:italic" textLength="31" lengthAdjust="spacingAndGlyphs">(p-1)</text>
<polyline class="ns" points="1138.3,863.3 1143.3,863.3 1146.7,866.7 1150,875 1153.3,884 1156.7,889 1159.3,893.5 1160.7,900 1162.7,907.3 1211.7,856" fill="none" stroke="#19b3ea" stroke-width="1.2"/>
<polyline class="ns" points="1138.3,863.3 1143.3,863.3 1146.7,866.7 1150,875 1153.3,885 1156.7,890 1159.3,895 1160.7,901.7 1162.7,910 1166.7,907.3 1173.3,901.7 1180,897.7 1190,894 1200,890.7 1211.7,884.3" fill="none" stroke="#ee1c24" stroke-width="1.2"/>
</svg>
<script>
(function(){
try{
var NS="http://www.w3.org/2000/svg";
var pls=document.querySelectorAll("polyline");
for(var q=0;q<pls.length;q++){
var pl=pls[q];
var cls=pl.getAttribute("class")||"";
if(!cls||/\bns\b/.test(cls))continue;
var raw=pl.getAttribute("points").trim().split(/\s+/);
var p=[];
for(var i=0;i<raw.length;i++){var a=raw[i].split(",");p.push([parseFloat(a[0]),parseFloat(a[1])]);}
var n=p.length;if(n<3)continue;
var d="M"+p[0][0]+","+p[0][1];
for(var i=0;i<n-1;i++){
var p0=p[Math.max(i-1,0)],p1=p[i],p2=p[i+1],p3=p[Math.min(i+2,n-1)];
var c1x=p1[0]+(p2[0]-p0[0])/6,c1y=p1[1]+(p2[1]-p0[1])/6;
var c2x=p2[0]-(p3[0]-p1[0])/6,c2y=p2[1]-(p3[1]-p1[1])/6;
d+=" C"+c1x+","+c1y+" "+c2x+","+c2y+" "+p2[0]+","+p2[1];
}
var path=document.createElementNS(NS,"path");
path.setAttribute("d",d);
var attrs=["class","vector-effect","fill","stroke","stroke-width"];
for(var j=0;j<attrs.length;j++){var v=pl.getAttribute(attrs[j]);if(v!==null)path.setAttribute(attrs[j],v);}
pl.parentNode.replaceChild(path,pl);
}
}catch(e){}
})();
</script>
</body></html>
